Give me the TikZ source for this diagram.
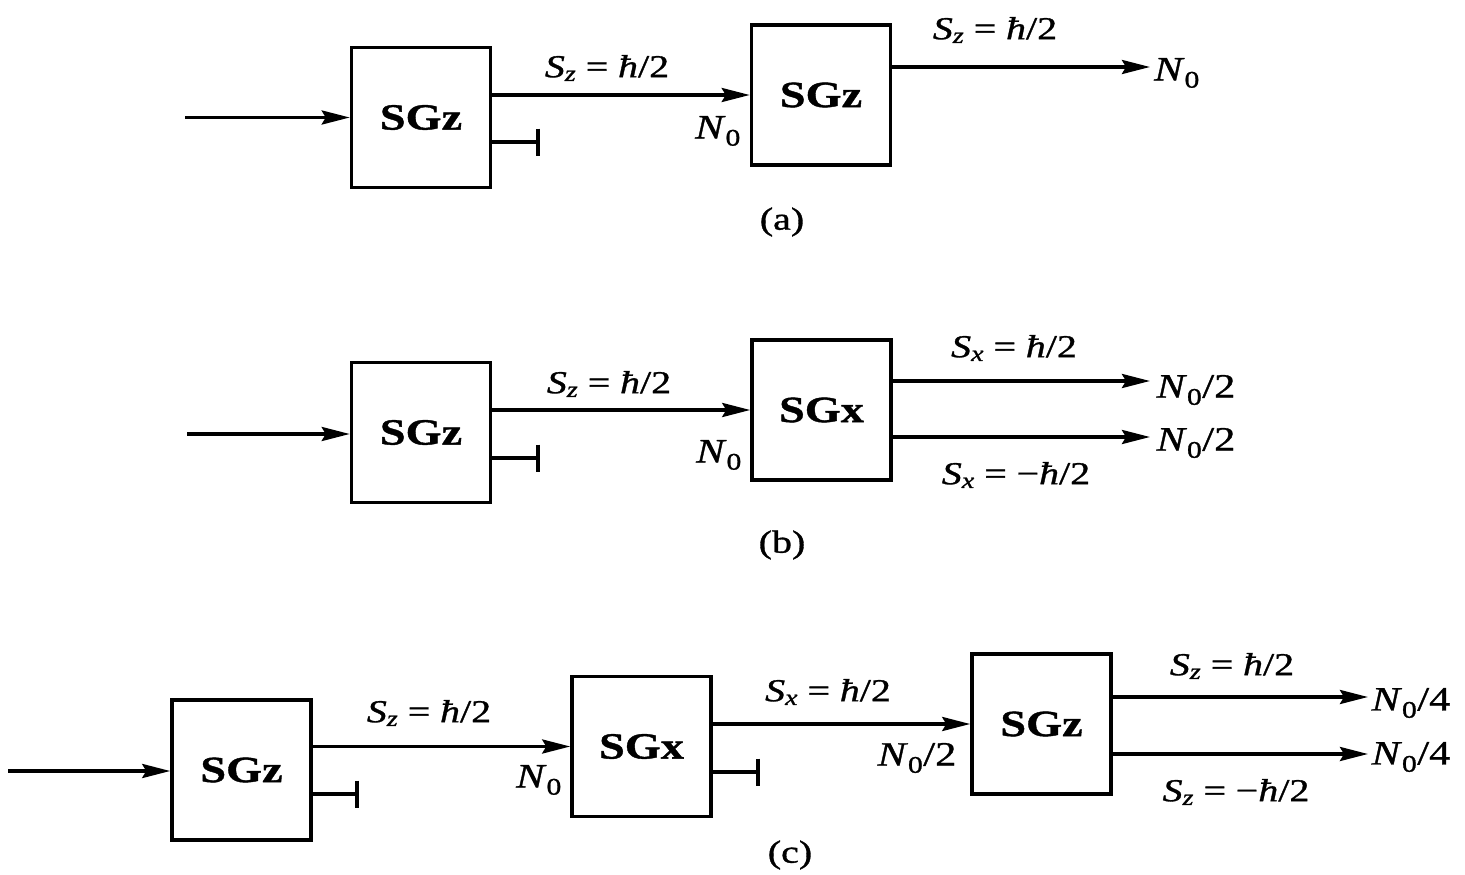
\documentclass[tikz,border=0pt]{standalone}
\usepackage{fontspec}
\setmainfont{Liberation Serif}[FakeStretch=1.25,FakeBold=1]
\usetikzlibrary{arrows.meta}
\newcommand{\eqsp}{\hspace{0.3em}=\hspace{0.3em}}
\newcommand{\Sval}[2]{\textit{S}\textsubscript{\textit{#1}}\eqsp#2\textit{ħ}/2}
\newcommand{\Nz}[1]{\textit{N}\textsubscript{0}#1}
\begin{document}
\begin{tikzpicture}[x=1pt,y=-1pt,
  sg/.style={draw, line width=3.5pt, minimum width=139pt, minimum height=140pt, inner sep=0pt,
    font=\fontsize{37}{40}\selectfont\bfseries},
  arr/.style={line width=3.5pt, -{Stealth[length=28pt,width=14pt,inset=4pt]}},
  stopper/.style={line width=3.5pt, -{Bar[width=27pt,line width=4.5pt]}},
  lbl/.style={inner sep=0pt, font=\fontsize{32}{34}\selectfont},
  nl/.style={inner sep=0pt, font=\fontsize{34}{36}\selectfont},
  captxt/.style={inner sep=0pt, font=\fontsize{32}{34}\selectfont}]
\useasboundingbox (0,0) rectangle (1465,875);

% ---------- (a)
\node[sg] (a1) at (421,117.5) {SGz};
\node[sg] (a2) at (821,95) {SGz};
\coordinate (ain) at (185,117.5);
\draw[arr] (ain) -- (a1.west);
\draw[arr] (a1.east |- a2.west) -- (a2.west);
\coordinate (astop) at (540,142);
\draw[stopper] (a1.east |- astop) -- (astop);
\coordinate (aout) at (1150,67);
\draw[arr] (a2.east |- aout) -- (aout);
\node[lbl] (aL1) at (607,68) {\Sval{z}{}};
\node[nl] (aN1) at (718,131) {\Nz{}};
\node[lbl] (aL2) at (995,30) {\Sval{z}{}};
\node[nl] (aN2) at (1177,73) {\Nz{}};
\node[captxt] (acap) at (782,222) {(a)};

% ---------- (b)
\node[sg] (b1) at (421,432.5) {SGz};
\node[sg] (b2) at (821.5,410) {SGx};
\coordinate (bin) at (187,434);
\draw[arr] (bin) -- (bin -| b1.west);
\draw[arr] (b1.east |- b2.west) -- (b2.west);
\coordinate (bstop) at (540,458);
\draw[stopper] (b1.east |- bstop) -- (bstop);
\coordinate (bout1) at (1150,381);
\coordinate (bout2) at (1150,437);
\draw[arr] (b2.east |- bout1) -- (bout1);
\draw[arr] (b2.east |- bout2) -- (bout2);
\node[lbl] (bL1) at (609,384) {\Sval{z}{}};
\node[nl] (bN1) at (719,455) {\Nz{}};
\node[lbl] (bL2) at (1014,348) {\Sval{x}{}};
\node[nl] (bN2) at (1196,390) {\Nz{/2}};
\node[nl] (bN3) at (1196,443) {\Nz{/2}};
\node[lbl] (bL3) at (1016,475) {\Sval{x}{−}};
\node[captxt] (bcap) at (782,545) {(b)};

% ---------- (c)
\node[sg] (c1) at (241.5,770) {SGz};
\node[sg] (c2) at (641.5,746.5) {SGx};
\node[sg] (c3) at (1041.5,724) {SGz};
\coordinate (cin) at (8,771);
\draw[arr] (cin) -- (cin -| c1.west);
\draw[arr] (c1.east |- c2.west) -- (c2.west);
\coordinate (cstop1) at (359,794);
\draw[stopper] (c1.east |- cstop1) -- (cstop1);
\draw[arr] (c2.east |- c3.west) -- (c3.west);
\coordinate (cstop2) at (760,772);
\draw[stopper] (c2.east |- cstop2) -- (cstop2);
\coordinate (cout1) at (1368,697);
\coordinate (cout2) at (1368,754);
\draw[arr] (c3.east |- cout1) -- (cout1);
\draw[arr] (c3.east |- cout2) -- (cout2);
\node[lbl] (cL1) at (429,713) {\Sval{z}{}};
\node[nl] (cN1) at (539,780) {\Nz{}};
\node[lbl] (cL2) at (828,692) {\Sval{x}{}};
\node[nl] (cN2) at (917,758) {\Nz{/2}};
\node[lbl] (cL3) at (1232,666) {\Sval{z}{}};
\node[nl] (cN3) at (1411,703) {\Nz{/4}};
\node[nl] (cN4) at (1411,757) {\Nz{/4}};
\node[lbl] (cL4) at (1236,792) {\Sval{z}{−}};
\node[captxt] (ccap) at (790,855) {(c)};
\end{tikzpicture}
\end{document}
